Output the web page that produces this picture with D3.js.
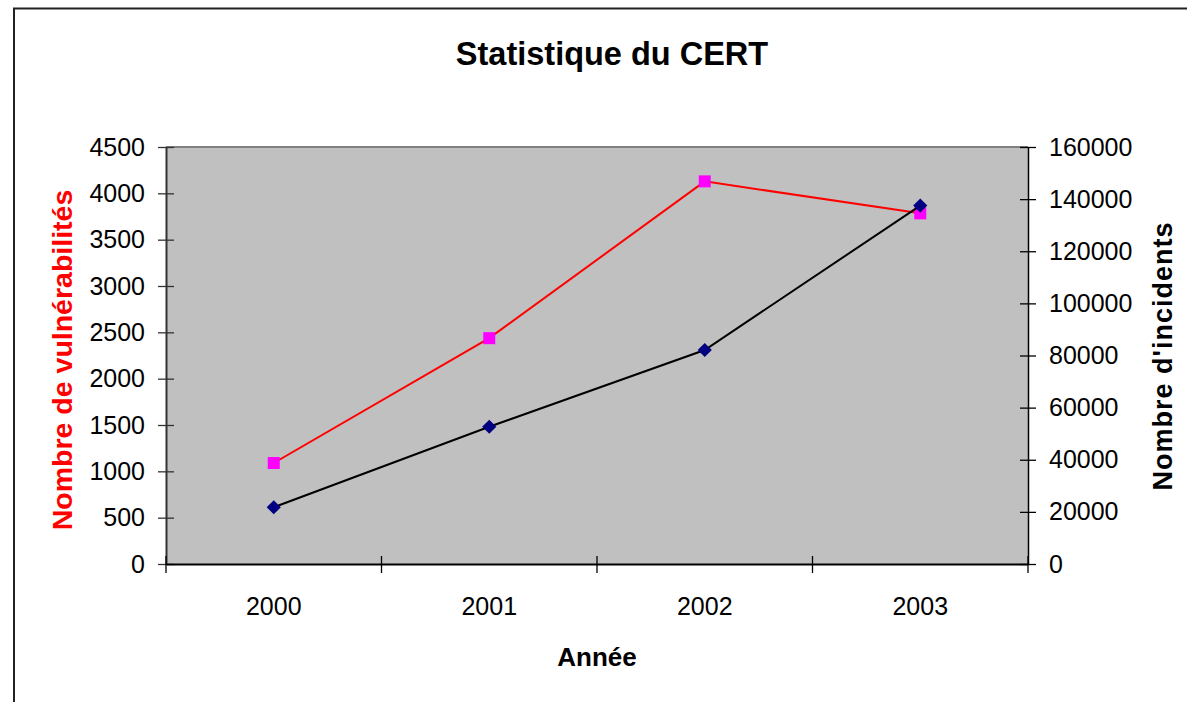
<!DOCTYPE html>
<html>
<head>
<meta charset="utf-8">
<script src="https://cdn.jsdelivr.net/npm/d3@7"></script>
<style>
  body { margin: 0; background: #fff; }
  text { font-family: Arial, "Liberation Sans", sans-serif; }
</style>
</head>
<body>
<script>
// data
var years = ["2000", "2001", "2002", "2003"];
var vulnerabilites = [1090, 2437, 4129, 3784];
var incidents = [21756, 52658, 82094, 137529];
var leftTicks = [0, 500, 1000, 1500, 2000, 2500, 3000, 3500, 4000, 4500];
var rightTicks = [0, 20000, 40000, 60000, 80000, 100000, 120000, 140000, 160000];

var width = 1187,
    height = 702;

var plot = { left: 166, top: 147, right: 1028, bottom: 564 };

var plotFill = "#c0c0c0",
    vulnColor = "#ff0000",
    vulnMarker = "#ff00ff",
    incColor = "#000000",
    incMarker = "#000080";

var svg = d3.select("body").append("svg")
    .attr("width", width)
    .attr("height", height);

// outer frame
svg.append("rect")
    .attr("x", 14)
    .attr("y", 8.5)
    .attr("width", width)
    .attr("height", height)
    .attr("fill", "none")
    .attr("stroke", "#222")
    .attr("stroke-width", 2);

var x = d3.scaleBand().domain(years).range([plot.left, plot.right]).padding(0);
var yL = d3.scaleLinear().domain([0, 4500]).range([plot.bottom, plot.top]);
var yR = d3.scaleLinear().domain([0, 160000]).range([plot.bottom, plot.top]);

// plot area
svg.append("rect")
    .attr("x", plot.left)
    .attr("y", plot.top)
    .attr("width", plot.right - plot.left)
    .attr("height", plot.bottom - plot.top)
    .attr("fill", plotFill);

svg.append("line")
    .attr("x1", plot.left).attr("x2", plot.right)
    .attr("y1", plot.top).attr("y2", plot.top)
    .attr("stroke", "#808080").attr("stroke-width", 2);

// left axis
var gL = svg.append("g")
    .attr("transform", "translate(" + plot.left + ",0)")
    .call(d3.axisLeft(yL).tickValues(leftTicks).tickSizeInner(8).tickSizeOuter(0).tickPadding(13).tickFormat(d3.format("d")));
gL.selectAll(".tick line").attr("x1", 8).attr("stroke", "#333").attr("stroke-width", 1.3);
gL.select(".domain").attr("stroke", "#333").attr("stroke-width", 2);
gL.selectAll("text").attr("font-size", 25).attr("fill", "#000");

// right axis
var gR = svg.append("g")
    .attr("transform", "translate(" + plot.right + ",0)")
    .call(d3.axisRight(yR).tickValues(rightTicks).tickSizeInner(8).tickSizeOuter(0).tickPadding(13).tickFormat(d3.format("d")));
gR.selectAll(".tick line").attr("x1", -8).attr("stroke", "#000").attr("stroke-width", 1.3);
gR.select(".domain").attr("stroke", "#000").attr("stroke-width", 1.5);
gR.selectAll("text").attr("font-size", 25).attr("fill", "#000");

// bottom axis
var gB = svg.append("g")
    .attr("transform", "translate(0," + plot.bottom + ")")
    .call(d3.axisBottom(x).tickSize(0).tickPadding(33));
gB.select(".domain").attr("stroke", "#000").attr("stroke-width", 2);
gB.selectAll("text").attr("font-size", 25).attr("fill", "#000");

var edges = years.map(function(d) { return x(d); }).concat([x.range()[1]]);
gB.selectAll(".edge")
    .data(edges)
    .enter()
    .append("line")
    .attr("class", "edge")
    .attr("x1", function(d) { return d; })
    .attr("x2", function(d) { return d; })
    .attr("y1", -8)
    .attr("y2", 9)
    .attr("stroke", "#000")
    .attr("stroke-width", 1.3);

var cx = function(i) { return x(years[i]) + x.bandwidth() / 2; };

// vulnerabilities series (left axis)
svg.append("path")
    .datum(vulnerabilites)
    .attr("fill", "none")
    .attr("stroke", vulnColor)
    .attr("stroke-width", 2)
    .attr("d", d3.line().x(function(d, i) { return cx(i); }).y(function(d) { return yL(d); }));

svg.selectAll(".vuln")
    .data(vulnerabilites)
    .enter()
    .append("path")
    .attr("class", "vuln")
    .attr("transform", function(d, i) { return "translate(" + cx(i) + "," + yL(d) + ")"; })
    .attr("d", d3.symbol().type(d3.symbolSquare).size(144))
    .attr("fill", vulnMarker);

// incidents series (right axis)
svg.append("path")
    .datum(incidents)
    .attr("fill", "none")
    .attr("stroke", incColor)
    .attr("stroke-width", 2)
    .attr("d", d3.line().x(function(d, i) { return cx(i); }).y(function(d) { return yR(d); }));

svg.selectAll(".inc")
    .data(incidents)
    .enter()
    .append("path")
    .attr("class", "inc")
    .attr("transform", function(d, i) { return "translate(" + cx(i) + "," + yR(d) + ") rotate(45)"; })
    .attr("d", d3.symbol().type(d3.symbolSquare).size(100))
    .attr("fill", incMarker);

// titles
svg.append("text")
    .attr("x", 612)
    .attr("y", 65)
    .attr("text-anchor", "middle")
    .attr("font-size", 32.5)
    .attr("font-weight", "bold")
    .text("Statistique du CERT");

svg.append("text")
    .attr("x", (plot.left + plot.right) / 2)
    .attr("y", 666)
    .attr("text-anchor", "middle")
    .attr("font-size", 26)
    .attr("font-weight", "bold")
    .text("Année");

svg.append("text")
    .attr("transform", "translate(72,360) rotate(-90)")
    .attr("text-anchor", "middle")
    .attr("font-size", 28.5)
    .attr("font-weight", "bold")
    .attr("fill", "#ff0000")
    .text("Nombre de vulnérabilités");

svg.append("text")
    .attr("transform", "translate(1172,356) rotate(-90)")
    .attr("text-anchor", "middle")
    .attr("font-size", 27)
    .attr("font-weight", "bold")
    .attr("letter-spacing", 1)
    .attr("fill", "#000")
    .text("Nombre d'incidents");
</script>
</body>
</html>
